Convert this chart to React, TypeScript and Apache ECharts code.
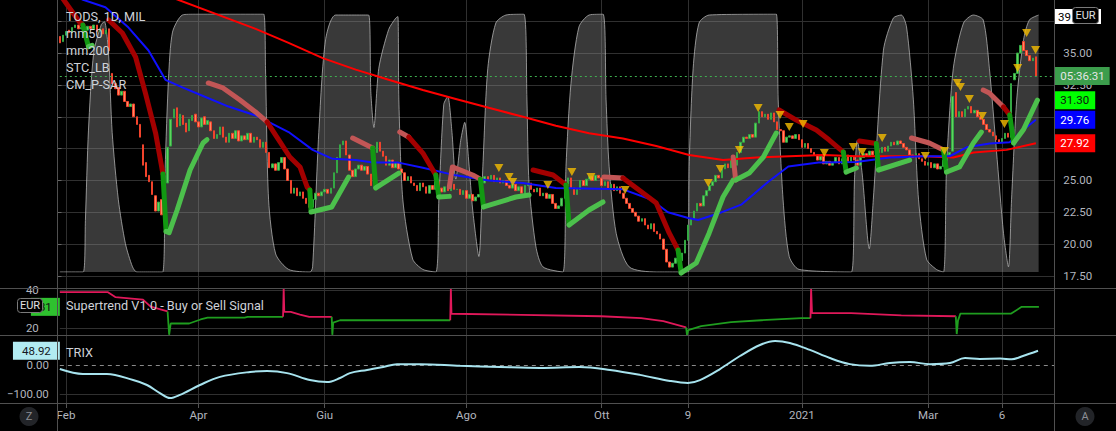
import { useEffect, useRef } from 'react';
import * as echarts from 'echarts';

const FONT = 'Roboto, "Noto Sans", sans-serif';
const N_SLOTS = 324;

// x-axis tick labels (bar index -> label)
const xTickIndex = [2, 45, 86, 132, 176, 204, 241, 282, 306];
const xTickLabel = ['Feb', 'Apr', 'Giu', 'Ago', 'Ott', '9', '2021', 'Mar', '6'];

// daily candles: [open, close, low, high]
const candles: number[][] = [
  [36.3,35.8,35.5,36.5],[35.9,36.4,35.7,36.6],[36.4,36.7,36.2,36.9],[36.8,36.6,36.4,37.0],[36.6,37.0,36.5,37.3],[37.0,37.2,36.8,37.5],[37.2,36.9,36.7,37.3],[36.9,37.0,36.7,37.2],[37.0,36.8,36.6,37.1],[36.8,37.1,36.7,37.3],
  [37.1,36.9,36.7,37.3],[36.9,37.2,36.8,37.5],[37.2,36.7,36.5,37.3],[36.7,36.9,36.5,37.1],[36.9,36.5,36.3,37.0],[36.5,36.8,36.3,37.0],[36.9,35.2,35.0,37.0],[33.4,32.6,32.3,33.9],[32.6,32.2,31.9,32.9],[32.3,31.7,31.4,32.5],
  [31.7,32.0,31.5,32.3],[32.0,31.2,31.0,32.2],[31.2,30.8,30.5,31.4],[30.8,31.0,30.6,31.6],[31.0,30.0,29.7,31.1],[30.0,29.4,29.0,30.3],[29.4,28.4,28.0,29.7],[27.8,26.2,25.9,28.0],[26.4,25.3,25.0,26.6],[25.4,24.9,24.4,25.9],
  [24.9,23.9,23.4,25.2],[23.8,22.6,21.9,24.1],[22.6,23.3,22.3,24.4],[23.5,22.3,21.0,23.8],[22.6,24.6,22.4,25.0],[24.8,27.6,24.6,27.9],[27.7,29.8,27.5,31.0],[29.9,30.6,29.5,31.2],[30.7,29.2,29.0,31.0],[29.3,30.2,29.0,30.9],
  [30.1,29.4,29.1,30.8],[29.5,28.8,28.5,29.9],[28.9,29.8,28.7,30.2],[29.7,30.1,29.4,30.6],[30.2,29.6,29.3,30.4],[29.6,29.2,28.9,30.0],[29.2,29.9,29.0,30.2],[30.0,29.4,29.2,30.3],[29.4,29.7,29.2,30.0],[29.6,28.9,28.7,29.8],
  [28.9,28.3,28.1,29.2],[28.3,28.6,28.1,28.9],[28.6,29.2,28.4,29.5],[29.2,28.4,28.2,29.3],[28.4,28.0,27.7,28.6],[28.0,28.7,27.9,29.0],[28.7,28.3,28.1,28.9],[28.3,28.9,28.2,29.2],[28.9,28.1,27.9,29.0],[28.1,28.5,27.9,28.8],
  [28.5,28.2,28.0,28.7],[28.2,28.7,28.0,29.0],[28.7,28.0,27.8,28.8],[28.0,28.4,27.8,28.6],[28.4,28.2,27.9,28.6],[28.2,27.6,27.3,28.4],[27.6,28.0,27.4,28.3],[28.0,27.2,27.0,28.1],[27.2,26.0,25.7,27.3],[26.0,26.3,25.6,26.6],
  [26.3,25.8,25.5,26.5],[25.8,26.4,25.6,26.7],[26.4,26.8,26.2,27.2],[26.8,25.9,25.6,26.9],[25.9,25.0,24.7,26.1],[25.0,24.0,23.6,25.2],[24.0,24.4,23.7,24.8],[24.4,23.8,23.4,24.6],[23.8,24.1,23.3,24.4],[24.1,23.6,23.2,24.3],
  [23.6,23.2,22.8,23.8],[23.2,22.9,22.6,23.5],[22.9,23.5,22.7,23.9],[23.5,24.0,23.3,24.4],[24.0,23.8,23.5,24.3],[23.8,24.1,23.6,24.5],[24.1,24.3,23.9,24.6],[24.3,24.0,23.8,24.5],[24.0,24.4,23.8,24.7],[24.4,25.6,24.3,25.9],
  [25.6,26.8,25.5,27.3],[26.8,27.8,26.6,28.4],[27.8,28.1,27.5,28.8],[28.1,27.0,26.8,28.3],[27.0,25.8,25.6,27.2],[25.8,25.3,25.0,26.0],[25.3,25.9,25.1,26.6],[25.9,26.2,25.7,26.5],[26.2,25.8,25.5,26.4],[25.8,26.1,25.6,26.7],
  [26.1,25.5,25.3,26.3],[25.5,24.6,24.2,25.7],[24.6,27.2,24.5,27.6],[27.2,28.0,27.0,29.1],[28.0,27.3,27.0,28.2],[27.3,26.9,26.5,27.6],[26.9,26.2,26.0,27.1],[26.2,26.6,26.0,27.3],[26.6,26.0,25.7,26.8],[26.0,26.4,25.6,26.7],
  [26.4,25.9,25.6,26.6],[25.9,25.6,25.3,26.1],[25.6,25.0,24.8,25.8],[25.0,25.3,24.8,25.6],[25.3,24.8,24.5,25.5],[24.8,24.6,24.3,25.0],[24.6,24.2,23.9,24.8],[24.2,24.8,24.0,25.1],[24.8,24.5,24.2,25.0],[24.5,24.0,23.7,24.7],
  [24.0,24.6,23.8,24.9],[24.6,24.3,24.0,24.8],[24.3,24.9,24.1,25.2],[24.9,24.4,24.2,25.1],[24.4,24.1,23.8,24.6],[24.1,24.5,23.9,24.8],[24.5,24.2,23.9,24.7],[24.2,24.7,24.0,25.0],[24.7,24.3,24.0,24.9],[24.3,24.3,24.0,24.6],
  [24.3,23.9,23.6,24.5],[23.9,24.2,23.7,24.5],[24.2,23.6,23.3,24.3],[23.6,23.9,23.4,24.1],[23.9,23.4,23.1,24.0],[23.4,23.7,23.2,24.0],[23.7,23.9,23.5,24.2],[23.9,24.8,23.8,25.2],[24.8,25.3,24.6,25.9],[25.3,25.1,24.8,25.6],
  [25.1,25.4,24.9,25.8],[25.4,24.9,24.7,25.6],[24.9,25.2,24.7,25.5],[25.2,24.8,24.6,25.4],[24.8,25.0,24.6,25.3],[25.0,24.6,24.4,25.2],[24.6,24.4,24.1,24.8],[24.4,24.7,24.2,25.0],[24.7,24.2,24.0,24.9],[24.2,24.5,24.0,24.8],
  [24.5,24.0,23.8,24.7],[24.0,24.6,23.9,24.9],[24.6,24.8,24.4,25.1],[24.8,24.3,24.1,25.0],[24.3,24.1,23.8,24.5],[24.1,24.4,23.9,24.7],[24.4,23.8,23.6,24.5],[23.8,24.0,23.6,24.3],[24.0,23.6,23.4,24.2],[23.6,23.9,23.4,24.1],
  [23.9,23.2,22.9,24.0],[23.2,22.8,22.3,23.4],[22.8,23.0,21.9,23.3],[23.0,23.6,22.8,23.9],[23.6,24.6,23.5,25.0],[24.6,25.2,24.4,25.7],[25.2,24.4,24.2,25.4],[24.4,23.9,23.6,24.6],[23.9,24.3,23.7,24.6],[24.3,25.0,24.1,25.3],
  [25.0,24.6,24.4,25.2],[24.6,25.1,24.4,25.4],[25.1,25.3,24.9,25.7],[25.3,25.0,24.8,25.5],[25.0,25.4,24.8,25.7],[25.4,25.2,24.9,25.6],[25.2,24.6,24.4,25.3],[24.6,24.9,24.4,25.2],[24.9,24.3,24.1,25.0],[24.3,24.7,24.1,25.0],
  [24.7,24.2,24.0,24.8],[24.2,24.5,24.0,24.8],[24.5,24.0,23.7,24.6],[24.0,23.6,23.3,24.1],[23.6,23.2,22.9,23.7],[23.2,22.8,22.5,23.4],[22.8,22.5,22.2,23.0],[22.5,22.2,21.9,22.7],[22.2,21.8,21.5,22.4],[21.8,22.0,21.6,22.3],
  [22.0,21.5,21.2,22.1],[21.5,21.2,20.9,21.7],[21.2,21.6,21.0,21.9],[21.6,21.0,20.7,21.7],[21.0,20.8,20.4,21.3],[20.8,20.4,20.0,21.0],[20.4,19.6,19.2,20.6],[19.6,18.6,18.2,19.7],[18.6,18.2,17.8,18.8],[18.2,18.5,17.9,18.8],
  [18.5,18.9,18.3,19.2],[18.9,18.7,18.4,19.1],[18.7,19.3,18.6,19.6],[19.3,20.3,19.2,20.6],[20.3,21.5,20.2,21.9],[21.5,22.0,21.3,22.4],[22.0,22.6,21.8,23.0],[22.6,23.2,22.4,23.5],[23.2,23.0,22.6,23.5],[23.0,23.8,22.9,24.1],
  [23.8,24.2,23.6,24.5],[24.2,24.6,24.0,24.9],[24.6,24.9,24.4,25.3],[24.9,25.4,24.7,25.7],[25.4,25.2,24.9,25.6],[25.2,25.9,25.0,26.2],[25.9,26.3,25.7,26.6],[26.3,26.0,25.7,26.5],[26.0,26.6,25.8,26.9],[26.6,26.2,26.0,26.8],
  [26.2,27.2,26.0,27.6],[27.2,28.0,27.0,28.3],[28.0,28.4,27.7,28.7],[28.4,28.3,28.0,28.8],[28.3,28.6,28.1,28.9],[28.6,28.4,28.1,28.8],[28.4,29.5,28.3,29.8],[29.5,30.4,29.3,30.6],[30.4,30.0,29.7,30.6],[30.0,30.2,29.6,30.5],
  [30.2,29.8,29.4,30.4],[29.8,30.3,29.6,30.6],[30.3,29.6,29.3,30.4],[29.6,29.0,28.7,29.8],[29.0,28.9,28.6,29.3],[28.9,28.0,26.2,29.0],[28.0,28.4,27.8,28.7],[28.4,28.5,28.1,28.9],[28.5,28.3,28.0,28.7],[28.3,28.6,28.1,28.9],
  [28.6,28.2,27.9,28.8],[28.2,27.6,27.3,28.4],[27.6,27.9,27.4,28.2],[27.9,27.5,27.2,28.1],[27.5,27.2,26.9,27.7],[27.2,27.0,26.7,27.5],[27.0,26.6,26.3,27.2],[26.6,26.9,26.4,27.2],[26.9,26.3,26.0,27.0],[26.3,26.5,26.0,26.8],
  [26.5,26.2,25.9,26.7],[26.2,26.4,25.9,26.7],[26.4,26.8,26.2,27.1],[26.8,26.3,26.0,26.9],[26.3,26.7,26.1,27.0],[26.7,27.0,26.5,27.3],[27.0,26.5,26.3,27.2],[26.5,26.9,26.3,27.2],[26.9,26.6,26.3,27.1],[26.6,26.2,25.8,27.9],
  [26.2,26.8,26.0,27.2],[26.8,27.1,26.6,27.4],[27.1,26.9,26.6,27.3],[26.9,27.3,26.8,27.6],[27.3,27.0,26.8,27.5],[27.0,27.4,26.9,27.7],[27.4,27.2,27.0,27.6],[27.2,27.6,27.0,27.9],[27.6,27.3,27.1,27.8],[27.3,27.7,27.2,28.0],
  [27.7,28.0,27.5,28.3],[28.0,27.8,27.6,28.2],[27.8,28.1,27.7,28.4],[28.1,27.9,27.6,28.3],[27.9,27.6,27.4,28.1],[27.6,27.4,27.1,27.8],[27.4,27.0,26.8,27.6],[27.0,26.8,26.5,27.2],[26.8,27.1,26.6,27.3],[27.1,26.7,26.5,27.2],
  [26.7,26.5,26.3,26.9],[26.5,26.2,25.9,26.7],[26.2,26.4,26.0,26.6],[26.4,26.0,25.8,26.5],[26.0,26.3,25.8,26.5],[26.3,25.9,25.6,26.4],[25.9,26.1,25.7,26.3],[26.1,26.6,25.9,26.9],[26.6,27.0,26.4,27.3],[27.0,27.2,26.4,27.6],
  [27.3,31.6,27.2,32.0],[31.9,30.0,29.8,32.2],[30.0,30.4,29.8,30.9],[30.4,30.0,29.8,30.7],[30.0,30.6,29.9,30.9],[30.6,30.8,30.4,31.1],[30.8,30.3,30.1,31.0],[30.3,30.5,30.0,30.8],[30.5,30.0,29.8,30.7],[30.0,29.8,29.5,30.2],
  [29.8,29.4,29.2,30.0],[29.4,29.0,28.8,29.6],[29.0,28.8,28.5,29.2],[28.8,28.5,28.3,29.0],[28.5,28.2,28.0,28.7],[28.2,28.0,27.7,28.4],[28.0,28.3,27.9,28.6],[28.3,28.7,28.1,29.0],[28.7,28.4,28.2,28.9],[28.4,32.6,28.3,33.0],
  [32.9,33.4,31.9,33.8],[33.4,35.0,33.2,35.4],[35.0,35.6,34.9,36.6],[35.9,35.2,35.0,36.4],[35.2,34.8,34.5,35.3],[34.8,34.4,34.1,35.0],[34.4,34.6,34.2,34.9],[34.7,33.2,32.9,34.8],
];

// moving averages: [bar index, value]
const ma50: number[][] = [
  [0,41.1],[7.3,39.2],[14.8,38.6],[22.3,37.0],[28.8,35.2],[34.3,32.9],[39.8,32.3],[47.3,31.55],[54.8,30.8],[63.6,30.1],
  [74.3,28.8],[82.1,27.4],[88.6,26.7],[96.1,26.6],[101.6,26.4],[110,26.4],[117.9,26.0],[128.6,25.4],[139.3,25.0],[150.4,24.8],
  [161.1,24.4],[182.9,24.3],[192,23.5],[197.5,22.5],[204.1,22.05],[207.3,21.9],[213.8,22.4],[221.3,23.1],[230.1,24.9],[236.6,26.1],
  [246.4,26.4],[258.7,26.45],[269.4,26.8],[280.5,26.9],[289,26.9],[294.5,27.6],[302,27.9],[308.5,28.0],[313.1,29.0],[317,29.76],
];
const ma200: number[][] = [
  [0,42.7],[38.2,39.2],[63.6,36.9],[74.3,35.8],[85.4,34.6],[96.1,33.7],[106.8,32.9],[117.9,32.1],[128.6,31.4],[139.3,30.7],
  [150.4,30.0],[161.1,29.3],[171.9,28.7],[182.9,28.3],[193.7,27.7],[204.4,27.0],[215.4,26.6],[226.2,26.8],[236.9,26.9],[248,27.0],
  [258.7,26.9],[280.5,26.9],[290.2,26.8],[296.8,27.2],[307.5,27.4],[317,27.92],
];

// STC oscillator (0..100), [bar index, value]
const stc: number[][] = [
  [0,0],[7.6,0],[8.3,20],[9.3,55],[11,85],[13.5,96],[14.5,97],[15.8,85],[17,54],[19,28],[21.3,11],[23.6,2],[25,0],[33.4,0],
  [34.2,40],[35.3,75],[36.6,93],[39.8,99.6],[44,100],[66.2,100],[66.8,79],[67.8,28],[70.1,7],[74.3,1],[81.3,0],[82.1,2],
  [84.1,54],[86.3,90],[89.6,99.6],[100.3,99.6],[101,70],[102,56],[103.6,79],[106.8,94],[109.1,98.4],[109.8,99],[110.1,67],
  [111.4,28],[114.6,5],[117.9,1],[122.1,0],[123.1,28],[124.7,65],[126,68],[127.3,55],[128.6,36],[130.2,51],[131.5,58],
  [132.8,43],[134.1,24],[136.1,6],[137.4,41],[139,79],[141.6,96.5],[144.9,99.6],[150.7,100],[151.7,67],[152.4,34],[154.6,10],
  [156.9,2],[163.4,0],[164.4,41],[166,73],[168.6,95],[171.9,99.6],[176.4,100],[177.4,67],[178.4,41],[180.7,15],[184.9,2],
  [193.7,0],[204.1,0],[204.4,41],[205.7,79],[207.6,96.5],[210.9,99.6],[232.7,100],[233.3,67],[234.9,28],[236.9,6],[240.1,1],
  [257.1,0],[258.1,36],[259,51],[260.6,38],[262.9,9],[264.2,28],[267.5,86],[270.7,98.4],[273.3,99.6],[275,95],[277.2,67],
  [278.9,28],[281.5,5],[284.7,1],[287,0],[288,41],[290.2,79],[293.5,96.5],[296.7,99.6],[299.9,97.7],[301.9,79],[304.2,47],
  [306.5,15],[308.1,2],[309.1,28],[310.8,67],[313,90],[314.9,97.7],[317.9,99.6],
];

// CM_P-SAR segments: kind r = dark red, l = light red, g = green, dg = dark green
const sarSegments: { kind: string; pts: number[][] }[] = [
  { kind: 'r', pts: [[0,39.6],[6.5,37.4],[7.5,37.2]] },
  { kind: 'dg', pts: [[7.5,37.2],[9.3,35.5]] },
  { kind: 'g', pts: [[9.3,35.5],[10.5,35.6]] },
  { kind: 'r', pts: [[15.8,37.6],[20.3,36.57],[24.6,34.69],[27.8,31.86],[31.1,28.72],[33.5,25.5]] },
  { kind: 'dg', pts: [[33.5,25.5],[34.5,21.0]] },
  { kind: 'g', pts: [[34.5,21.0],[35.5,20.9],[38.1,22.68],[42.3,25.82],[46.5,27.94],[47.8,28.2]] },
  { kind: 'l', pts: [[48.2,32.65],[53,32.26],[58.5,31.31],[64,30.29],[67.3,29.59]] },
  { kind: 'r', pts: [[67.3,29.59],[70.5,28.41],[74.7,26.84],[78,26.06],[80.3,24.49],[81.2,24.25]] },
  { kind: 'dg', pts: [[81.2,24.25],[81.6,22.6]] },
  { kind: 'g', pts: [[81.6,22.52],[88.3,22.92],[93.8,25.27]] },
  { kind: 'l', pts: [[95.1,28.33],[101.6,27.55]] },
  { kind: 'dg', pts: [[101.6,27.55],[102.6,24.41]] },
  { kind: 'g', pts: [[102.6,24.41],[110.1,25.58]] },
  { kind: 'l', pts: [[110.4,28.8],[113.3,28.41]] },
  { kind: 'r', pts: [[113.3,28.41],[117.9,27.15],[122.1,25.43]] },
  { kind: 'dg', pts: [[122.1,25.43],[123.1,23.7]] },
  { kind: 'g', pts: [[123.1,23.7],[126.5,23.75]] },
  { kind: 'l', pts: [[126.5,24.5],[127.5,26.06],[134.1,25.43],[136.6,25.1]] },
  { kind: 'dg', pts: [[136.6,25.1],[137.6,22.92]] },
  { kind: 'g', pts: [[137.6,22.92],[144.9,23.46],[148.1,23.7],[152.4,23.86]] },
  { kind: 'r', pts: [[153.7,25.82],[160.2,25.43],[164.4,24.64]] },
  { kind: 'dg', pts: [[164.4,24.64],[165.4,21.5]] },
  { kind: 'g', pts: [[165.4,21.5],[171.9,22.68],[176.4,23.31]] },
  { kind: 'l', pts: [[176.7,25.27],[182.9,25.19]] },
  { kind: 'r', pts: [[182.9,25.19],[188.1,24.25],[193.7,23.23],[197.9,20.88],[200.8,19.54]] },
  { kind: 'dg', pts: [[200.8,19.54],[201.8,17.74]] },
  { kind: 'g', pts: [[201.8,17.74],[206.7,18.52],[210.9,20.88],[215.4,23.7],[218.7,25.03]] },
  { kind: 'l', pts: [[218.7,26.84],[219.5,25.03]] },
  { kind: 'g', pts: [[219.5,25.03],[223.9,25.58],[228.5,26.84],[232.7,28.72]] },
  { kind: 'r', pts: [[233.6,30.53],[239.2,29.74],[245.7,28.96],[249.9,28.17],[254.5,27.23]] },
  { kind: 'dg', pts: [[254.5,27.23],[255.4,25.66]] },
  { kind: 'g', pts: [[255.4,25.66],[258.7,25.98]] },
  { kind: 'r', pts: [[259.7,28.1],[265.2,27.9]] },
  { kind: 'dg', pts: [[265.2,27.9],[265.9,25.82]] },
  { kind: 'g', pts: [[265.9,25.82],[276,26.6]] },
  { kind: 'l', pts: [[276.6,28.33],[282.4,27.94],[287,27.39]] },
  { kind: 'dg', pts: [[287,27.39],[288,25.66]] },
  { kind: 'g', pts: [[288,25.66],[292.2,26.06],[296.7,27.94],[299.3,28.8]] },
  { kind: 'l', pts: [[299.9,32.1],[301.9,31.86],[306.5,30.77]] },
  { kind: 'r', pts: [[306.5,30.77],[308.5,30.14]] },
  { kind: 'dg', pts: [[308.5,30.14],[309.8,27.94]] },
  { kind: 'g', pts: [[309.8,27.94],[313,29.0],[317.5,31.3]] },
];

// yellow sell-signal triangles: [bar index, price]
const signalTriangles: number[][] = [
  [142.6,25.98],[145.9,25.27],[147.1,24.88],[158.5,24.64],[166.3,25.66],[172.5,25.27],[183.6,24.25],[210.6,24.8],
  [214.5,25.9],[220.7,27.39],[226.8,30.69],[233.9,30.14],[236.9,29.2],[241.4,29.43],[248.3,27.15],[257.7,27.63],
  [260.6,27.23],[267.1,28.33],[281.1,26.92],[287.3,27.31],[291.5,32.65],[292.5,32.33],[295.4,31.39],[299.6,30.06],
  [306.8,29.43],[311.1,33.83],[314,36.57],[316.9,35.24],
];

// Supertrend segments
const supertrendSegments: { trend: string; pts: number[][] }[] = [
  { trend: 'down', pts: [[0,38.9],[15.5,38.9],[18,36.3],[27,35.0],[29.5,31.3],[35,28.8]] },
  { trend: 'up', pts: [[35,28.8],[35.5,16.6],[36,22.5],[42,22.5],[45.7,24.6],[48,25.6],[60,25.6],[61,26.0],[72.5,26.0]] },
  { trend: 'down', pts: [[72.5,26.0],[72.7,40.9],[72.9,28.6],[75,28.6],[78,27.2],[81,26.0],[88.3,26.0]] },
  { trend: 'up', pts: [[88.3,26.0],[88.5,16.6],[88.8,23.0],[91,24.2],[126.8,24.2]] },
  { trend: 'down', pts: [[126.8,24.2],[127,40.9],[127.2,27.6],[150,27.0],[175.8,26.3],[188.8,25.3],[196,23.8],[203.4,20.5]] },
  { trend: 'up', pts: [[203.4,20.5],[203.7,16.6],[204.1,19.0],[208.3,21.1],[218,23.2],[227.8,24.2],[240.8,25.3],[243.8,25.3]] },
  { trend: 'down', pts: [[243.8,25.3],[244,40.9],[244.3,27.9],[257,27.9],[273.3,26.8],[291,26.3]] },
  { trend: 'up', pts: [[291,26.3],[291.3,17.0],[291.7,24.0],[292.5,27.7],[309,27.7],[312.4,31.2],[318,31.2]] },
];

// TRIX: [bar index, value]
const trix: number[][] = [
  [0,-14],[7.5,-31],[15.3,-31],[23.8,-52],[28.3,-69],[32.5,-97],[35.8,-114],[39,-103],[45.5,-69],[52,-41],
  [61.8,-24],[67.3,-21],[73.8,-28],[81.2,-52],[86.8,-59],[91,-45],[94.2,-28],[99.8,-17],[105,-7],[109.5,3],
  [117,3],[130,-3],[143,-7],[155.9,-10],[168.9,-7],[178.7,-17],[188.4,-34],[198.2,-55],[204,-62],[207.9,-52],
  [214.4,-14],[220.9,31],[227.4,69],[232.3,83],[237.1,76],[243.6,52],[250.1,24],[256.6,3],[263.1,-3],[269.6,7],
  [276.1,10],[282.6,3],[289.1,7],[294,24],[298.8,21],[305.4,22],[309.2,20],[312.8,31],[317.7,48.92],
];
const trixLevels = [0, -100];

const SAR_COLORS: Record<string, string> = { r: '#a30000', l: '#c25656', g: '#4cc04c', dg: '#129812' };
const ST_COLORS: Record<string, string> = { down: '#e0185a', up: '#1f9d1f' };

const AXIS_TEXT = '#b2b5be';
const GRID_LINE = '#303030';
const SEP_LINE = '#505050';

function tag(value: number, text: string, bg: string, fg: string, position: string, pad: number[]) {
  return {
    yAxis: value,
    lineStyle: { color: 'rgba(0,0,0,0)', width: 0 },
    label: {
      show: true, position, distance: 0, formatter: text,
      backgroundColor: bg, color: fg, fontSize: 11.5, fontFamily: FONT,
      padding: pad, lineHeight: 12,
    },
  };
}

function buildOption() {
  const slots = Array.from({ length: N_SLOTS }, (_, i) => String(i));
  const tickSet = new Set(xTickIndex);
  const onTick = (i: number) => tickSet.has(i);
  const lastClose = candles[candles.length - 1][1];
  const lastMa50 = ma50[ma50.length - 1][1];
  const lastMa200 = ma200[ma200.length - 1][1];
  const lastSarPts = sarSegments[sarSegments.length - 1].pts;
  const lastSar = lastSarPts[lastSarPts.length - 1][1];
  const lastStPts = supertrendSegments[supertrendSegments.length - 1].pts;
  const lastSt = lastStPts[lastStPts.length - 1][1];
  const lastTrix = trix[trix.length - 1][1];
  // price labels hidden under the value tags (as in the reference)
  const coveredBy = [lastMa50, lastMa200, lastSar, 37.9];
  const priceLabel = (v: number) => (coveredBy.some((t) => Math.abs(t - v) < 0.6) ? '' : v.toFixed(2));

  const L = 59.84, R = 61.67;
  const gridBase = { left: L, right: R, containLabel: false, outerBoundsMode: 'none' };

  const series: any[] = [];

  series.push({
    type: 'line', xAxisIndex: 3, yAxisIndex: 2, data: stc, symbol: 'none', silent: true, z: 1,
    smooth: 0.25,
    lineStyle: { color: 'rgba(185,185,185,0.75)', width: 1 },
    areaStyle: { color: 'rgba(140,140,140,0.58)', origin: 'start' },
  });

  series.push({
    type: 'candlestick', xAxisIndex: 0, yAxisIndex: 0, z: 3, silent: true, barWidth: 1,
    data: candles.map((c) => [c[2], c[3], c[2], c[3]]),
    itemStyle: { color: '#a8a8a8', color0: '#a8a8a8', borderColor: '#a8a8a8', borderColor0: '#a8a8a8', borderWidth: 0 },
  });

  series.push({
    type: 'candlestick', xAxisIndex: 0, yAxisIndex: 0, z: 4, silent: true, barWidth: 2,
    data: candles.map((c) => [c[0], c[1], Math.min(c[0], c[1]), Math.max(c[0], c[1])]),
    itemStyle: { color: '#5fd35f', color0: '#ff8a65', borderColor: '#34a844', borderColor0: '#f2432c', borderWidth: 1 },
    markLine: {
      symbol: 'none', silent: true, animation: false,
      data: [{
        yAxis: lastClose,
        lineStyle: { color: '#3fae4f', type: [2, 3], width: 1 },
        label: {
          show: true, position: 'end', distance: 0, formatter: '05:36:31',
          backgroundColor: '#3c9d4c', color: '#e6e6e6', fontSize: 11.5, fontFamily: FONT,
          padding: [3, 5, 3, 6], lineHeight: 12,
        },
      }],
    },
  });

  series.push({
    type: 'line', xAxisIndex: 1, yAxisIndex: 0, data: ma200, symbol: 'none', z: 5, silent: true,
    lineStyle: { color: '#ff0000', width: 2 },
    markLine: { symbol: 'none', silent: true, animation: false, data: [tag(lastMa200, lastMa200.toFixed(2), '#ff0000', '#ffffff', 'end', [3, 6, 3, 6])] },
  });
  series.push({
    type: 'line', xAxisIndex: 1, yAxisIndex: 0, data: ma50, symbol: 'none', z: 5, silent: true,
    lineStyle: { color: '#1010ff', width: 2 },
    markLine: { symbol: 'none', silent: true, animation: false, data: [tag(lastMa50, lastMa50.toFixed(2), '#0000ff', '#ffffff', 'end', [3, 6, 3, 6])] },
  });

  sarSegments.forEach((seg, i) => {
    const isLast = i === sarSegments.length - 1;
    series.push({
      type: 'line', xAxisIndex: 1, yAxisIndex: 0, data: seg.pts, symbol: 'none', z: 6, silent: true,
      lineStyle: { color: SAR_COLORS[seg.kind], width: 5, cap: 'round', join: 'round' },
      markLine: isLast ? { symbol: 'none', silent: true, animation: false, data: [tag(lastSar, lastSar.toFixed(2), '#00ff00', '#111111', 'end', [3, 6, 3, 6])] } : undefined,
    });
  });

  series.push({
    type: 'scatter', xAxisIndex: 1, yAxisIndex: 0, data: signalTriangles, z: 7, silent: true,
    symbol: 'triangle', symbolRotate: 180, symbolSize: [9, 8],
    itemStyle: { color: '#f5bd00' },
  });

  supertrendSegments.forEach((seg, i) => {
    const isLast = i === supertrendSegments.length - 1;
    series.push({
      type: 'line', xAxisIndex: 4, yAxisIndex: 3, data: seg.pts, symbol: 'none', z: 5, silent: true, clip: false,
      lineStyle: { color: ST_COLORS[seg.trend], width: 1.8 },
      markLine: isLast ? { symbol: 'none', silent: true, animation: false, data: [tag(lastSt, String(Math.round(lastSt)), '#2fc12f', '#111111', 'start', [3, 8, 3, 8])] } : undefined,
    });
  });

  series.push({
    type: 'line', xAxisIndex: 5, yAxisIndex: 4, data: trix, symbol: 'none', z: 5, silent: true, clip: false,
    smooth: 0.35,
    lineStyle: { color: '#a7e3ee', width: 2 },
    markLine: {
      symbol: 'none', silent: true, animation: false,
      data: [
        { yAxis: trixLevels[0], lineStyle: { color: '#8a8a8a', type: [4, 4], width: 1 }, label: { show: false } },
        { yAxis: trixLevels[1], lineStyle: { color: GRID_LINE, type: 'solid', width: 1 }, label: { show: false } },
        tag(lastTrix, lastTrix.toFixed(2), '#b2ebf2', '#131722', 'start', [3, 9, 3, 9]),
      ],
    },
  });

  const legendText = (text: string, y: number) => ({
    type: 'text', x: 66, y, z: 50, silent: true,
    style: { text, fill: '#cfd2d8', fontSize: 12.7, fontFamily: FONT, verticalAlign: 'middle' },
  });

  const graphic: any[] = [
    { type: 'line', z: 40, silent: true, shape: { x1: 0, y1: 288.5, x2: 1116, y2: 288.5 }, style: { stroke: SEP_LINE, lineWidth: 1 } },
    { type: 'line', z: 40, silent: true, shape: { x1: 0, y1: 335.5, x2: 1116, y2: 335.5 }, style: { stroke: SEP_LINE, lineWidth: 1 } },
    { type: 'line', z: 40, silent: true, shape: { x1: 0, y1: 403.5, x2: 1116, y2: 403.5 }, style: { stroke: SEP_LINE, lineWidth: 1 } },
    { type: 'line', z: 40, silent: true, shape: { x1: 57.5, y1: 0, x2: 57.5, y2: 431 }, style: { stroke: SEP_LINE, lineWidth: 1 } },
    { type: 'line', z: 40, silent: true, shape: { x1: 1054.5, y1: 0, x2: 1054.5, y2: 431 }, style: { stroke: SEP_LINE, lineWidth: 1 } },
    legendText('TODS, 1D, MIL', 16.5),
    legendText('mm50', 33.5),
    legendText('mm200', 50.5),
    legendText('STC_LB', 67.5),
    legendText('CM_P-SAR', 84.5),
    legendText('Supertrend V1.0 - Buy or Sell Signal', 305),
    legendText('TRIX', 352),
    { type: 'rect', z: 60, silent: true, shape: { x: 1055, y: 9, width: 46, height: 15 }, style: { fill: '#ffffff' } },
    { type: 'text', z: 61, silent: true, x: 1058, y: 16.5, style: { text: '39', fill: '#000', fontSize: 11.5, fontFamily: FONT, verticalAlign: 'middle' } },
    { type: 'rect', z: 62, silent: true, shape: { x: 1072.5, y: 7.5, width: 26, height: 16, r: 3 }, style: { fill: '#000', stroke: '#7a7a7a', lineWidth: 1 } },
    { type: 'text', z: 63, silent: true, x: 1085.5, y: 15.5, style: { text: 'EUR', fill: '#e0e0e0', fontSize: 11, fontFamily: FONT, align: 'center', verticalAlign: 'middle' } },
    { type: 'rect', z: 62, silent: true, shape: { x: 17.5, y: 298.5, width: 25, height: 14, r: 3 }, style: { fill: '#000', stroke: '#7a7a7a', lineWidth: 1 } },
    { type: 'text', z: 63, silent: true, x: 30, y: 305.5, style: { text: 'EUR', fill: '#e0e0e0', fontSize: 11, fontFamily: FONT, align: 'center', verticalAlign: 'middle' } },
    { type: 'circle', z: 60, silent: true, shape: { cx: 29, cy: 416.5, r: 9.5 }, style: { fill: '#222428' } },
    { type: 'text', z: 61, silent: true, x: 29, y: 416.5, style: { text: 'Z', fill: '#8c8f96', fontSize: 11, fontFamily: FONT, align: 'center', verticalAlign: 'middle' } },
    { type: 'circle', z: 60, silent: true, shape: { cx: 1085, cy: 416.5, r: 9.5 }, style: { fill: '#222428' } },
    { type: 'text', z: 61, silent: true, x: 1085, y: 416.5, style: { text: 'A', fill: '#8c8f96', fontSize: 11, fontFamily: FONT, align: 'center', verticalAlign: 'middle' } },
  ];

  return {
    backgroundColor: '#000000',
    animation: false,
    textStyle: { fontFamily: FONT },
    grid: [
      { ...gridBase, top: 0, height: 288 },
      { ...gridBase, left: 57.5, top: 21.2, height: 254.8 },
      { ...gridBase, top: 14, height: 258 },
      { ...gridBase, top: 290, height: 38.3 },
      // TRIX pane: value 100 at y 336, 0 at y 365, -100 at y 394, -200 at y 423
      { ...gridBase, top: 336, height: 87 },
      { ...gridBase, top: 0, height: 403 },
    ],
    xAxis: [
      { gridIndex: 0, type: 'category', data: slots, boundaryGap: false, show: false },
      { gridIndex: 0, type: 'value', min: 0, max: N_SLOTS - 1, show: false },
      { gridIndex: 1, type: 'value', min: 0, max: 1, show: false },
      { gridIndex: 2, type: 'value', min: 0, max: N_SLOTS - 1, show: false },
      { gridIndex: 3, type: 'value', min: 0, max: N_SLOTS - 1, show: false },
      { gridIndex: 4, type: 'value', min: 0, max: N_SLOTS - 1, show: false },
      {
        gridIndex: 5, type: 'category', data: slots, boundaryGap: false, position: 'bottom',
        axisLine: { show: false },
        axisTick: { show: true, interval: onTick, length: 5, lineStyle: { color: '#555' } },
        axisLabel: {
          interval: onTick, margin: 6, color: AXIS_TEXT, fontSize: 11.5, fontFamily: FONT,
          formatter: (_v: string, i: number) => xTickLabel[xTickIndex.indexOf(i)] ?? '',
        },
        splitLine: { show: true, interval: onTick, lineStyle: { color: GRID_LINE, width: 1 } },
      },
    ],
    yAxis: [
      { gridIndex: 0, type: 'value', min: 16.558, max: 39.164, show: false },
      {
        gridIndex: 1, type: 'value', min: 17.5, max: 37.5, interval: 2.5, position: 'right',
        axisLine: { show: false },
        axisTick: { show: true, length: 4, lineStyle: { color: '#666' } },
        axisLabel: { margin: 9, color: AXIS_TEXT, fontSize: 11.5, fontFamily: FONT, formatter: priceLabel },
        splitLine: { show: true, lineStyle: { color: GRID_LINE, width: 1 } },
      },
      { gridIndex: 2, type: 'value', min: 0, max: 100, show: false },
      {
        gridIndex: 3, type: 'value', min: 20, max: 40, interval: 20, position: 'left',
        axisLine: { show: false }, axisTick: { show: false },
        axisLabel: { margin: 21, color: AXIS_TEXT, fontSize: 11.5, fontFamily: FONT },
        splitLine: { show: true, lineStyle: { color: GRID_LINE, width: 1 } },
      },
      {
        gridIndex: 4, type: 'value', min: -200, max: 100, interval: 100, position: 'left',
        axisLine: { show: false }, axisTick: { show: false },
        axisLabel: {
          margin: 11, color: AXIS_TEXT, fontSize: 11.5, fontFamily: FONT,
          formatter: (v: number) => (trixLevels.includes(v) ? v.toFixed(2).replace('-', '\u2212') : ''),
        },
        splitLine: { show: false },
      },
      { gridIndex: 5, type: 'value', min: 0, max: 1, show: false },
    ],
    series,
    graphic,
  };
}

export default function App() {
  const ref = useRef<HTMLDivElement>(null);
  useEffect(() => {
    if (!ref.current) return;
    const chart = echarts.init(ref.current, undefined, { renderer: 'svg' });
    chart.setOption(buildOption() as any);
    return () => chart.dispose();
  }, []);
  return (
    <div
      ref={ref}
      style={{ position: 'fixed', left: 0, top: 0, width: 1116, height: 431, background: '#000' }}
    />
  );
}
